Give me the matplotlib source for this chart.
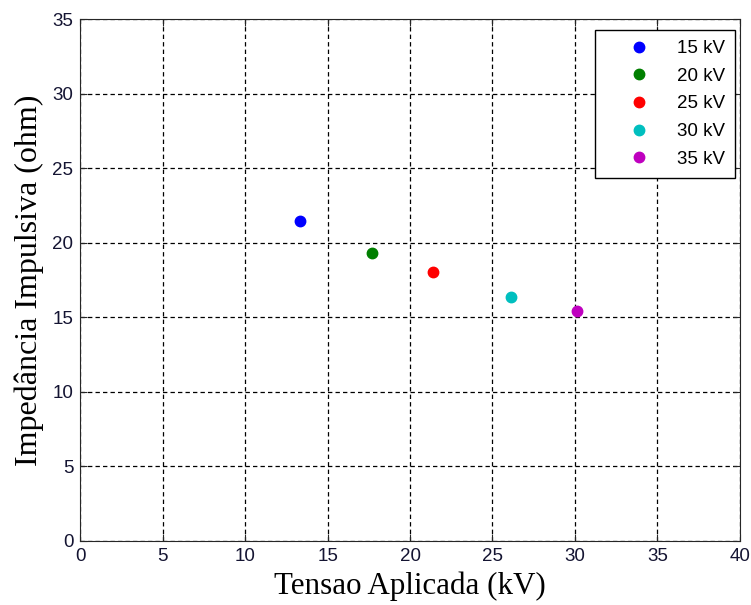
import matplotlib.pyplot as plt

# Impulse impedance vs applied voltage, one point per charging level
labels = ["15 kV", "20 kV", "25 kV", "30 kV", "35 kV"]
tensao = [13.3, 17.7, 21.4, 26.1, 30.1]
impedancia = [21.5, 19.35, 18.05, 16.4, 15.4]
colors = ["#0000ff", "#007f00", "#ff0000", "#00bfbf", "#bf00bf"]

x_ticks = list(range(0, 41, 5))
y_ticks = list(range(0, 36, 5))

fig = plt.figure(figsize=(7.51, 6.05), dpi=100)
ax = fig.add_axes([0.107, 0.106, 0.878, 0.862])

for lab, x, y, c in zip(labels, tensao, impedancia, colors):
    ax.plot(x, y, "o", color=c, markersize=7.5, label=lab)

ax.set_xlim(0, 40)
ax.set_ylim(0, 35)
ax.set_xticks(x_ticks)
ax.set_yticks(y_ticks)
ax.grid(True, color="black", linestyle=(0, (3.5, 2.5)), linewidth=0.9)
ax.tick_params(direction="in", length=5, top=True, right=True, pad=5,
               labelsize=13.5, colors="#262626", labelcolor="#141432")
for tl in ax.get_xticklabels() + ax.get_yticklabels():
    tl.set_family("Liberation Sans")
for s in ax.spines.values():
    s.set_color("#262626")

ax.set_xlabel("Tensao Aplicada (kV)", family="Liberation Serif", fontsize=22.3, labelpad=5)
ax.set_ylabel("Impedância Impulsiva (ohm)", family="Liberation Serif", fontsize=23, labelpad=6)

leg = ax.legend(loc="upper right", bbox_to_anchor=(0.993, 0.98),
                frameon=True, fancybox=False, edgecolor="black", framealpha=1,
                prop={"family": "Liberation Sans", "size": 13.5},
                handletextpad=0.2, labelspacing=0.56, borderpad=0.55, handlelength=3.6,
                borderaxespad=0.0, markerfirst=True)
leg.get_frame().set_linewidth(1.0)

fig.savefig("out.png", dpi=100)
